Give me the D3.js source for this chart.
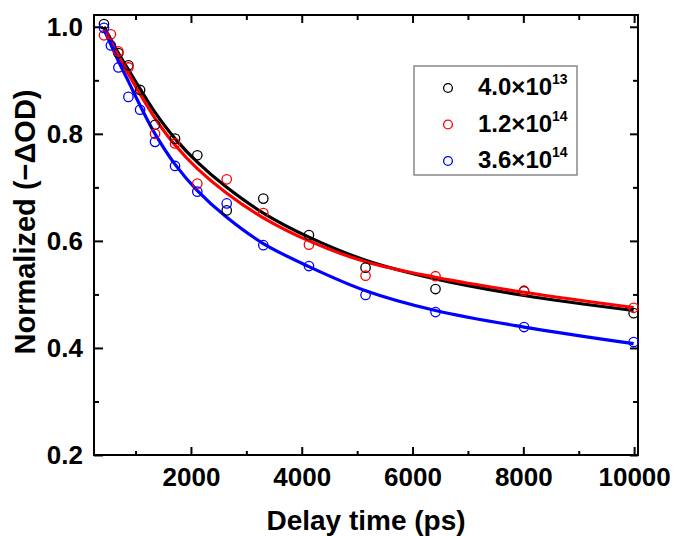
<!DOCTYPE html>
<html>
<head>
<meta charset="utf-8">
<script src="https://cdn.jsdelivr.net/npm/d3@7"></script>
<style>
  body { margin: 0; background: #fff; }
  text { font-family: "Liberation Sans", Arial, sans-serif; font-weight: bold; }
</style>
</head>
<body>
<svg id="decay-svg" width="676" height="536"></svg>
<script>
// measured points (ps, normalized -dOD); null = no marker seen
let times = [430, 555, 690, 871, 1082, 1352, 1713, 2115, 2646, 3306, 4130, 5152, 6415, 8013, 9991];
let blackPts = [1.005, null, 0.951, 0.928, 0.882, 0.817, 0.791, 0.760, 0.657, 0.679, 0.611, 0.550, 0.510, 0.506, 0.465];
let redPts = [0.984, 0.986, 0.954, 0.924, null, 0.800, 0.782, 0.707, 0.715, 0.652, 0.593, 0.535, 0.534, 0.507, 0.475];
let bluePts = [0.998, 0.965, 0.924, 0.869, 0.845, 0.785, 0.740, 0.692, 0.670, 0.592, 0.553, 0.499, 0.467, 0.439, 0.411];

// fitted curves
let fitTimes = [430, 690, 871, 1082, 1352, 1713, 2115, 2646, 3306, 4130, 5152, 6415, 8013, 9991];
let blackFit = [1.0, 0.951, 0.920, 0.884, 0.840, 0.791, 0.747, 0.700, 0.652, 0.607, 0.564, 0.529, 0.498, 0.470];
let redFit = [0.995, 0.946, 0.912, 0.874, 0.829, 0.779, 0.735, 0.689, 0.643, 0.600, 0.561, 0.532, 0.504, 0.4755];
let blueFit = [0.995, 0.936, 0.898, 0.853, 0.800, 0.743, 0.694, 0.644, 0.595, 0.552, 0.507, 0.470, 0.439, 0.408];

let legendBase = ['4.0\u00d710', '1.2\u00d710', '3.6\u00d710'];
let legendExp = ['13', '14', '14'];
let seriesColors = ['#000000', '#ff0000', '#0000ff'];

let xMajor = [2000, 4000, 6000, 8000, 10000];
let xMinor = [1000, 3000, 5000, 7000, 9000];
let yMajor = [0.2, 0.4, 0.6, 0.8, 1.0];
let yMinor = [0.3, 0.5, 0.7, 0.9];

let svg = d3.select('#decay-svg');
let pad = {l: 94, r: 38, t: 15, b: 81};
let chartW = 676 - pad.l - pad.r;
let chartH = 536 - pad.t - pad.b;

let xScale = d3.scaleLinear().domain([250, 10070]).range([0, chartW]);
let yScale = d3.scaleLinear().domain([0.2, 1.022]).range([chartH, 0]);

let g = svg.append('g').attr('transform', `translate(${pad.l},${pad.t})`);

function styleAxis(sel, fontSize){
    sel.select('.domain').remove();
    sel.selectAll('line').attr('stroke', '#000').attr('stroke-width', 2);
    sel.selectAll('text').style('font-size', fontSize + 'px').attr('fill', '#000');
}

// bottom
g.append('g').attr('transform', `translate(0,${chartH})`)
    .call(d3.axisBottom(xScale).tickValues(xMajor).tickSizeInner(-8).tickSizeOuter(0).tickPadding(13).tickFormat(d3.format('d')))
    .call(s => styleAxis(s, 26));
g.append('g').attr('transform', `translate(0,${chartH})`)
    .call(d3.axisBottom(xScale).tickValues(xMinor).tickSizeInner(-4).tickSizeOuter(0).tickFormat(''))
    .call(s => styleAxis(s, 26));
// top
g.append('g')
    .call(d3.axisTop(xScale).tickValues(xMajor).tickSizeInner(-8).tickSizeOuter(0).tickFormat(''))
    .call(s => styleAxis(s, 26));
g.append('g')
    .call(d3.axisTop(xScale).tickValues(xMinor).tickSizeInner(-5).tickSizeOuter(0).tickFormat(''))
    .call(s => styleAxis(s, 26));
// left
g.append('g')
    .call(d3.axisLeft(yScale).tickValues(yMajor).tickSizeInner(-9).tickSizeOuter(0).tickPadding(11).tickFormat(d3.format('.1f')))
    .call(s => styleAxis(s, 26));
g.append('g')
    .call(d3.axisLeft(yScale).tickValues(yMinor).tickSizeInner(-5).tickSizeOuter(0).tickFormat(''))
    .call(s => styleAxis(s, 26));
// right
g.append('g').attr('transform', `translate(${chartW},0)`)
    .call(d3.axisRight(yScale).tickValues(yMajor).tickSizeInner(-8).tickSizeOuter(0).tickFormat(''))
    .call(s => styleAxis(s, 26));
g.append('g').attr('transform', `translate(${chartW},0)`)
    .call(d3.axisRight(yScale).tickValues(yMinor).tickSizeInner(-5).tickSizeOuter(0).tickFormat(''))
    .call(s => styleAxis(s, 26));

// frame
g.append('rect')
    .attr('width', chartW).attr('height', chartH)
    .attr('fill', 'none').attr('stroke', '#000').attr('stroke-width', 2);

// fit lines
let line = d3.line()
    .x(d => xScale(d[0]))
    .y(d => yScale(d[1]))
    .curve(d3.curveCatmullRom.alpha(0.5));

[blackFit, redFit, blueFit].forEach((fit, k) => {
    g.append('path')
        .datum(fitTimes.map((t, i) => [t, fit[i]]))
        .attr('d', line)
        .attr('fill', 'none')
        .attr('stroke', seriesColors[k])
        .attr('stroke-width', 3.2);
});

// markers
[blackPts, redPts, bluePts].forEach((pts, k) => {
    g.append('g').selectAll('circle')
        .data(times.map((t, i) => [t, pts[i]]).filter(d => d[1] !== null))
        .enter()
        .append('circle')
        .attr('cx', d => xScale(d[0]))
        .attr('cy', d => yScale(d[1]))
        .attr('r', 4.7)
        .attr('fill', 'none')
        .attr('stroke', seriesColors[k])
        .attr('stroke-width', 1.3);
});

// axis titles
svg.append('text')
    .attr('x', pad.l + chartW / 2)
    .attr('y', 530)
    .attr('text-anchor', 'middle')
    .style('font-size', '28px')
    .text('Delay time (ps)');

svg.append('text')
    .attr('transform', `translate(35,${pad.t + 207}) rotate(-90)`)
    .attr('text-anchor', 'middle')
    .style('font-size', '29px')
    .text('Normalized (\u2212\u0394OD)');

// legend
let legend = svg.append('g').attr('transform', 'translate(414,66)');
legend.append('rect')
    .attr('width', 163).attr('height', 109)
    .attr('fill', '#fff').attr('stroke', '#808080').attr('stroke-width', 1.4);

legendBase.forEach((lbl, i) => {
    let row = legend.append('g').attr('transform', `translate(0,${22 + i * 36.5})`);
    row.append('circle')
        .attr('cx', 34).attr('cy', 0).attr('r', 4.4)
        .attr('fill', 'none').attr('stroke', seriesColors[i]).attr('stroke-width', 1.3);
    let t = row.append('text')
        .attr('x', 64).attr('y', 7)
        .style('font-size', '24px');
    t.append('tspan').text(lbl);
    t.append('tspan').attr('dy', -11).style('font-size', '14px').text(legendExp[i]);
});
</script>
</body>
</html>
